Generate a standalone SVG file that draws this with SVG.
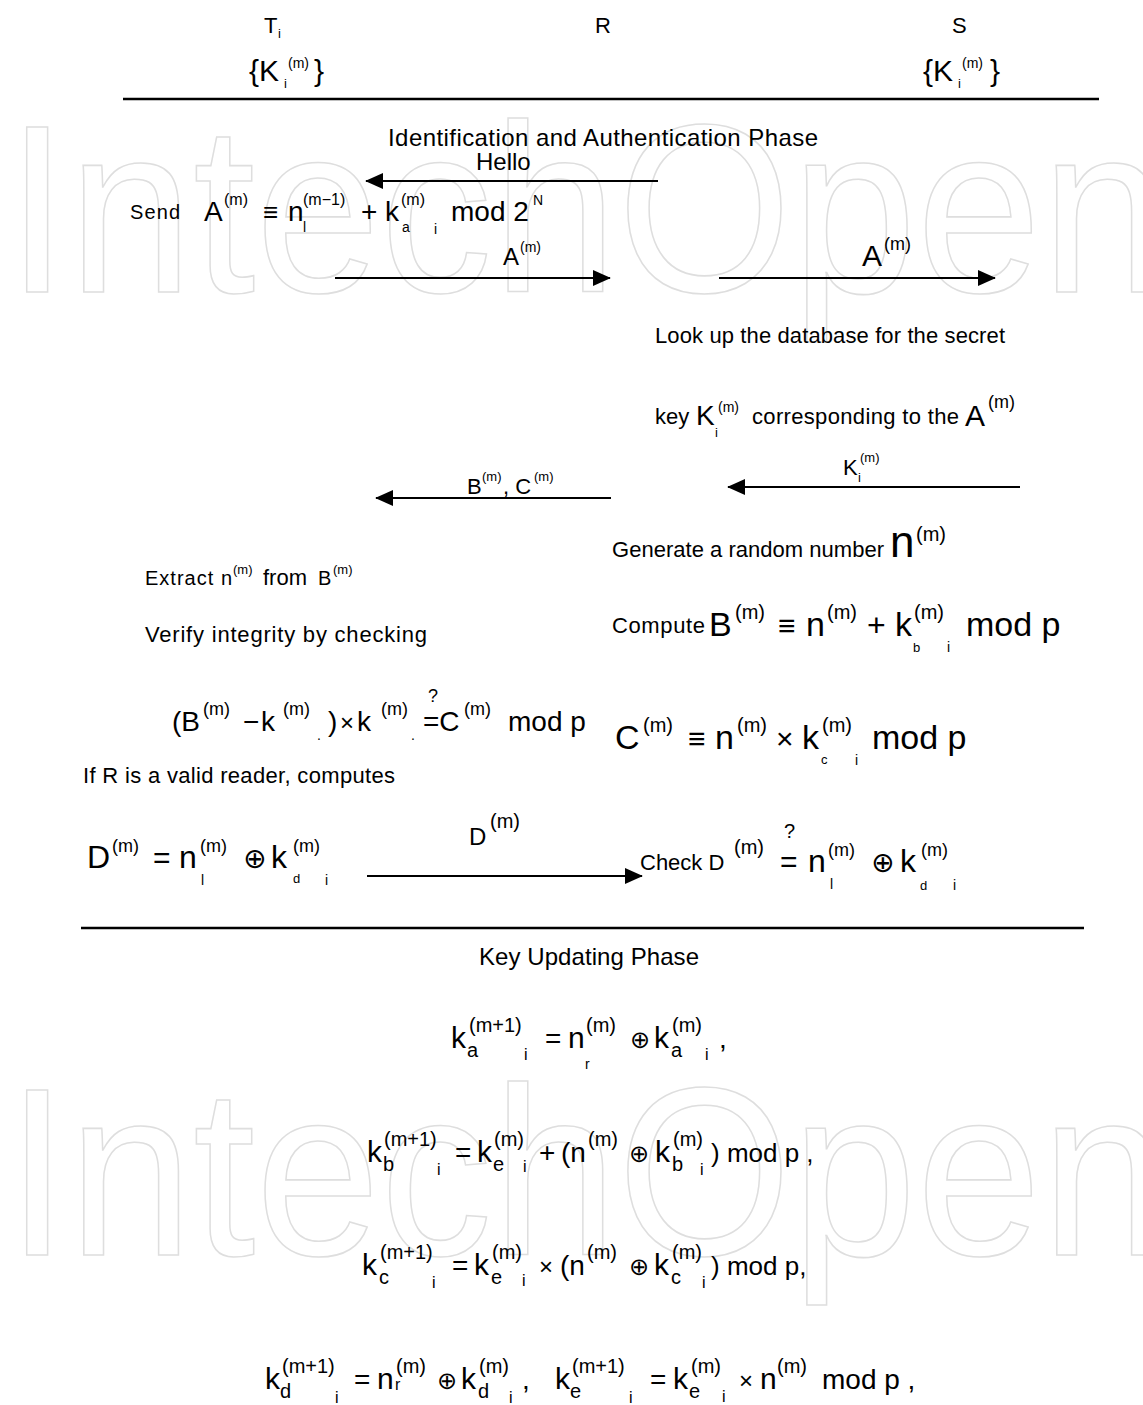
<svg xmlns="http://www.w3.org/2000/svg" width="1143" height="1405" viewBox="0 0 1143 1405">
<style>
text{font-family:"Liberation Sans",Arial,"DejaVu Sans",sans-serif;fill:#000}
.wm{fill:none;stroke:#dedede;stroke-width:1.6;font-size:240px}
.ln{stroke:#000;stroke-width:2.5;fill:none}
.ar{stroke:#000;stroke-width:2;fill:none;marker-end:url(#ah)}
.s13{font-size:13px}.s14{font-size:14px}.s16{font-size:16px}.s18{font-size:18px}.s20{font-size:20px}
.s22{font-size:22px}.s24{font-size:24px}.s26{font-size:26px}.s28{font-size:28px}.s30{font-size:30px}.s32{font-size:32px}.s34{font-size:34px}.s44{font-size:44px}
</style>
<defs>
<marker id="ah" viewBox="0 0 20 20" refX="19" refY="10" markerWidth="9" markerHeight="9" markerUnits="strokeWidth" orient="auto">
<path d="M0,1 L20,10 L0,19 Z" fill="#000"/>
</marker>
</defs>
<rect width="1143" height="1405" fill="#fff"/>
<g id="watermark">
<text class="wm" x="6" y="292" textLength="1160" lengthAdjust="spacingAndGlyphs">IntechOpen</text>
<text class="wm" x="6" y="1255" textLength="1160" lengthAdjust="spacingAndGlyphs">IntechOpen</text>
</g>
<g id="rules">
<line class="ln" x1="123" y1="99" x2="1099" y2="99"/>
<line class="ln" x1="81" y1="928" x2="1084" y2="928"/>
</g>
<g id="connectors">
<line class="ar" x1="658" y1="181" x2="366" y2="181"/>
<line class="ar" x1="335" y1="278" x2="610" y2="278"/>
<line class="ar" x1="719" y1="278" x2="995" y2="278"/>
<line class="ar" x1="1020" y1="487" x2="728" y2="487"/>
<line class="ar" x1="611" y1="498" x2="376" y2="498"/>
<line class="ar" x1="367" y1="876" x2="642" y2="876"/>
</g>
<g id="node-T">
<text class="s22" x="264" y="33">T</text><text class="s13" x="278" y="38">i</text>
<text class="s30" x="249" y="81">{K</text><text class="s14" x="288" y="68">(m)</text><text class="s13" x="284" y="88">i</text><text class="s30" x="314" y="81">}</text>
</g>
<g id="node-R"><text class="s22" x="595" y="33">R</text></g>
<g id="node-S">
<text class="s22" x="952" y="33">S</text>
<text class="s30" x="923" y="81">{K</text><text class="s14" x="962" y="68">(m)</text><text class="s13" x="958" y="88">i</text><text class="s30" x="990" y="81">}</text>
</g>
<g id="phase1-title"><text class="s24" x="388" y="146" textLength="430">Identification and Authentication Phase</text></g>
<g id="label-hello"><text class="s24" x="476" y="170">Hello</text></g>
<g id="send-A">
<text class="s20" x="130" y="219" textLength="50">Send</text>
<text class="s28" x="204" y="221">A</text><text class="s16" x="224" y="205">(m)</text>
<text class="s26" x="263" y="221">≡</text>
<text class="s28" x="288" y="221">n</text><text class="s16" x="303" y="205">(m−1)</text><text class="s14" x="303" y="232">l</text>
<text class="s28" x="361" y="221">+</text>
<text class="s28" x="385" y="221">k</text><text class="s16" x="401" y="205">(m)</text><text class="s14" x="402" y="232">a</text><text class="s14" x="434" y="234">i</text>
<text class="s28" x="451" y="221">mod 2</text><text class="s14" x="533" y="205">N</text>
</g>
<g id="label-A1"><text class="s24" x="503" y="265">A</text><text class="s14" x="520" y="252">(m)</text></g>
<g id="label-A2"><text class="s30" x="862" y="266">A</text><text class="s18" x="884" y="250">(m)</text></g>
<g id="lookup">
<text class="s22" x="655" y="343" textLength="350">Look up the database for the secret</text>
<text class="s22" x="655" y="424">key</text>
<text class="s28" x="696" y="425">K</text><text class="s14" x="718" y="412">(m)</text><text class="s13" x="715" y="437">i</text>
<text class="s22" x="752" y="424" textLength="207">corresponding to the</text>
<text class="s30" x="965" y="426">A</text><text class="s18" x="988" y="408">(m)</text>
</g>
<g id="label-K"><text class="s22" x="843" y="475">K</text><text class="s13" x="860" y="462">(m)</text><text class="s13" x="858" y="482">i</text></g>
<g id="label-BC"><text class="s22" x="467" y="494">B</text><text class="s13" x="482" y="481">(m)</text><text class="s22" x="503" y="494">, C</text><text class="s13" x="534" y="481">(m)</text></g>
<g id="generate">
<text class="s22" x="612" y="557" textLength="272">Generate a random number</text>
<text class="s44" x="890" y="557">n</text><text class="s20" x="916" y="541">(m)</text>
</g>
<g id="extract">
<text class="s20" x="145" y="585" textLength="87">Extract n</text><text class="s13" x="233" y="574">(m)</text><text class="s22" x="263" y="585">from</text><text class="s20" x="318" y="585">B</text><text class="s13" x="333" y="574">(m)</text>
</g>
<g id="verify"><text class="s22" x="145" y="642" textLength="282">Verify integrity by checking</text></g>
<g id="verify-eq">
<text class="s28" x="172" y="731">(B</text><text class="s18" x="203" y="715">(m)</text>
<text class="s28" x="243" y="731">−</text>
<text class="s28" x="261" y="731">k</text><text class="s18" x="283" y="715">(m)</text><text class="s14" x="317" y="740">.</text>
<text class="s28" x="328" y="731">)</text><text class="s24" x="340" y="731">×</text>
<text class="s28" x="357" y="731">k</text><text class="s18" x="381" y="715">(m)</text><text class="s14" x="411" y="740">.</text>
<text class="s18" x="428" y="702">?</text>
<text class="s28" x="423" y="731">=C</text><text class="s18" x="464" y="715">(m)</text>
<text class="s28" x="508" y="731">mod p</text>
</g>
<g id="valid"><text class="s22" x="83" y="783" textLength="312">If R is a valid reader, computes</text></g>
<g id="compute-B">
<text class="s22" x="612" y="633" textLength="93">Compute</text>
<text class="s34" x="709" y="636">B</text><text class="s20" x="735" y="619">(m)</text>
<text class="s30" x="778" y="636">≡</text>
<text class="s34" x="806" y="636">n</text><text class="s20" x="827" y="619">(m)</text>
<text class="s32" x="867" y="636">+</text>
<text class="s34" x="895" y="636">k</text><text class="s20" x="914" y="619">(m)</text><text class="s13" x="913" y="652">b</text><text class="s14" x="947" y="652">i</text>
<text class="s34" x="966" y="636">mod p</text>
</g>
<g id="compute-C">
<text class="s34" x="615" y="749">C</text><text class="s20" x="643" y="732">(m)</text>
<text class="s30" x="688" y="749">≡</text>
<text class="s34" x="715" y="749">n</text><text class="s20" x="737" y="732">(m)</text>
<text class="s30" x="776" y="749">×</text>
<text class="s34" x="802" y="749">k</text><text class="s20" x="822" y="732">(m)</text><text class="s13" x="821" y="764">c</text><text class="s14" x="855" y="765">i</text>
<text class="s34" x="872" y="749">mod p</text>
</g>
<g id="compute-D">
<text class="s32" x="87" y="868">D</text><text class="s18" x="112" y="852">(m)</text>
<text class="s30" x="153" y="868">=</text>
<text class="s32" x="179" y="868">n</text><text class="s18" x="200" y="852">(m)</text><text class="s14" x="201" y="885">l</text>
<text class="s28" x="243" y="868">⊕</text>
<text class="s32" x="271" y="868">k</text><text class="s18" x="293" y="852">(m)</text><text class="s13" x="293" y="883">d</text><text class="s14" x="325" y="885">i</text>
</g>
<g id="label-D"><text class="s24" x="469" y="845">D</text><text class="s20" x="490" y="828">(m)</text></g>
<g id="check-D">
<text class="s22" x="640" y="870">Check D</text><text class="s20" x="734" y="854">(m)</text>
<text class="s20" x="784" y="838">?</text>
<text class="s30" x="780" y="872">=</text>
<text class="s32" x="808" y="872">n</text><text class="s18" x="828" y="856">(m)</text><text class="s14" x="830" y="889">l</text>
<text class="s28" x="871" y="872">⊕</text>
<text class="s32" x="900" y="872">k</text><text class="s18" x="921" y="856">(m)</text><text class="s13" x="920" y="890">d</text><text class="s14" x="953" y="890">i</text>
</g>
<g id="phase2-title"><text class="s24" x="479" y="965" textLength="220">Key Updating Phase</text></g>
<g id="eq-ka">
<text class="s30" x="451" y="1048">k</text><text class="s20" x="469" y="1032">(m+1)</text><text class="s20" x="467" y="1057">a</text><text class="s16" x="524" y="1060">i</text>
<text class="s28" x="545" y="1048">=</text>
<text class="s30" x="568" y="1048">n</text><text class="s20" x="586" y="1032">(m)</text><text class="s14" x="585" y="1069">r</text>
<text class="s24" x="630" y="1048">⊕</text>
<text class="s30" x="654" y="1048">k</text><text class="s20" x="672" y="1032">(m)</text><text class="s20" x="671" y="1057">a</text><text class="s16" x="705" y="1060">i</text>
<text class="s28" x="719" y="1048">,</text>
</g>
<g id="eq-kb">
<text class="s30" x="367" y="1162">k</text><text class="s20" x="384" y="1146">(m+1)</text><text class="s20" x="383" y="1171">b</text><text class="s16" x="437" y="1175">i</text>
<text class="s28" x="455" y="1162">=</text>
<text class="s30" x="477" y="1162">k</text><text class="s20" x="494" y="1146">(m)</text><text class="s20" x="493" y="1171">e</text><text class="s16" x="523" y="1172">i</text>
<text class="s28" x="539" y="1162">+</text>
<text class="s28" x="561" y="1162">(n</text><text class="s20" x="588" y="1146">(m)</text>
<text class="s24" x="629" y="1162">⊕</text>
<text class="s30" x="655" y="1162">k</text><text class="s20" x="673" y="1146">(m)</text><text class="s20" x="672" y="1171">b</text><text class="s16" x="700" y="1175">i</text>
<text class="s26" x="711" y="1162">) mod p ,</text>
</g>
<g id="eq-kc">
<text class="s30" x="362" y="1275">k</text><text class="s20" x="380" y="1259">(m+1)</text><text class="s20" x="379" y="1284">c</text><text class="s16" x="432" y="1288">i</text>
<text class="s28" x="452" y="1275">=</text>
<text class="s30" x="474" y="1275">k</text><text class="s20" x="492" y="1259">(m)</text><text class="s20" x="491" y="1284">e</text><text class="s16" x="522" y="1286">i</text>
<text class="s24" x="539" y="1275">×</text>
<text class="s28" x="560" y="1275">(n</text><text class="s20" x="587" y="1259">(m)</text>
<text class="s24" x="629" y="1275">⊕</text>
<text class="s30" x="654" y="1275">k</text><text class="s20" x="672" y="1259">(m)</text><text class="s20" x="671" y="1284">c</text><text class="s16" x="702" y="1288">i</text>
<text class="s26" x="711" y="1275">) mod p,</text>
</g>
<g id="eq-kd-ke">
<text class="s30" x="265" y="1389">k</text><text class="s20" x="282" y="1373">(m+1)</text><text class="s20" x="280" y="1398">d</text><text class="s16" x="335" y="1403">i</text>
<text class="s28" x="354" y="1389">=</text>
<text class="s30" x="377" y="1389">n</text><text class="s20" x="396" y="1373">(m)</text><text class="s16" x="395" y="1390">r</text>
<text class="s24" x="437" y="1389">⊕</text>
<text class="s30" x="461" y="1389">k</text><text class="s20" x="479" y="1373">(m)</text><text class="s20" x="478" y="1398">d</text><text class="s16" x="509" y="1403">i</text>
<text class="s28" x="522" y="1389">,</text>
<text class="s30" x="555" y="1389">k</text><text class="s20" x="572" y="1373">(m+1)</text><text class="s20" x="570" y="1398">e</text><text class="s16" x="629" y="1403">i</text>
<text class="s28" x="650" y="1389">=</text>
<text class="s30" x="673" y="1389">k</text><text class="s20" x="691" y="1373">(m)</text><text class="s20" x="689" y="1398">e</text><text class="s16" x="722" y="1402">i</text>
<text class="s24" x="739" y="1389">×</text>
<text class="s30" x="760" y="1389">n</text><text class="s20" x="777" y="1373">(m)</text>
<text class="s28" x="822" y="1389">mod p ,</text>
</g>
</svg>
